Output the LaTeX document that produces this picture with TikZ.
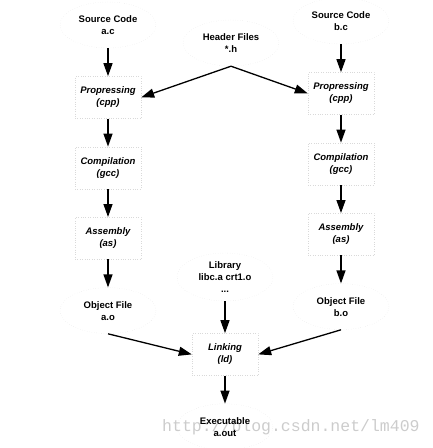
\documentclass[tikz,border=0pt]{standalone}
\usepackage{fontspec}
\setmainfont{Liberation Sans}
\setmonofont{Liberation Mono}
\usetikzlibrary{shapes.geometric, positioning, arrows.meta}

\begin{document}
\begin{tikzpicture}[
        x=1pt, y=1pt,
        % Define styles for the nodes
        base_node/.style={align=center, font=\fontsize{9.5}{12}\selectfont\bfseries, inner sep=0pt},
        file_node/.style={base_node, ellipse, draw=gray!22, dotted, minimum width=96pt, minimum height=46pt},
        proc_node/.style={base_node, rectangle, draw=gray!30, dotted, minimum width=66pt, minimum height=42pt, font=\fontsize{9.5}{12}\selectfont\bfseries\itshape},
        arrow/.style={-{Triangle[length=13pt, width=9pt]}, line width=1.3pt},
        mark_text/.style={font=\ttfamily\fontsize{16.5}{18}\selectfont, text=gray!40, inner sep=0pt, anchor=west}
    ]
    \useasboundingbox (0,0) rectangle (433,-448);

    % watermark
    \node (wm) [mark_text] at (162,-427) {http://blog.csdn.net/lm409};

    % ==============================================
    % === SCOPE FOR LEFT COLUMN (a.c) ===
    % ==============================================
    \begin{scope}
        \node (src_a) [file_node] at (108,-25) {Source Code\\a.c};

        \node (cpp_a) [proc_node, below=28pt of src_a] {Propressing\\(cpp)};
        \draw [arrow] (src_a.south) -- (cpp_a);

        \node (gcc_a) [proc_node, below=28pt of cpp_a] {Compilation\\(gcc)};
        \draw [arrow] (cpp_a.south) -- (gcc_a);

        \node (as_a) [proc_node, below=28pt of gcc_a] {Assembly\\(as)};
        \draw [arrow] (gcc_a.south) -- (as_a);

        \node (obj_a) [file_node, below=28pt of as_a] {Object File\\a.o};
        \draw [arrow] (as_a.south) -- (obj_a);
    \end{scope}

    % ===============================================
    % === SCOPE FOR RIGHT COLUMN (b.c) ===
    % ===============================================
    \begin{scope}
        \node (src_b) [file_node] at (341,-21) {Source Code\\b.c};

        \node (cpp_b) [proc_node, below=28pt of src_b] {Propressing\\(cpp)};
        \draw [arrow] (src_b.south) -- (cpp_b);

        \node (gcc_b) [proc_node, below=28pt of cpp_b] {Compilation\\(gcc)};
        \draw [arrow] (cpp_b.south) -- (gcc_b);

        \node (as_b) [proc_node, below=28pt of gcc_b] {Assembly\\(as)};
        \draw [arrow] (gcc_b.south) -- (as_b);

        \node (obj_b) [file_node, below=28pt of as_b] {Object File\\b.o};
        \draw [arrow] (as_b.south) -- (obj_b);
    \end{scope}

    % ===============================================
    % === MIDDLE: headers, library, linking ===
    % ===============================================
    \node (hdr) [file_node] at (231,-43) {Header Files\\*.h};
    \draw [arrow] (hdr.south) -- (cpp_a.east);
    \draw [arrow] (hdr.south) -- (cpp_b.west);

    \node (lib) [file_node, minimum height=48pt] at (225,-277) {Library\\libc.a crt1.o\\...};

    \node (link) [proc_node, below=32pt of lib] {Linking\\(ld)};
    \draw [arrow] (lib.south) -- (link);
    \draw [arrow] (obj_a.south) -- (link.west);
    \draw [arrow] (obj_b.south) -- (link.east);

    \node (exe) [file_node, below=28pt of link] {Executable\\a.out};
    \draw [arrow] (link.south) -- (exe);

\end{tikzpicture}
\end{document}
